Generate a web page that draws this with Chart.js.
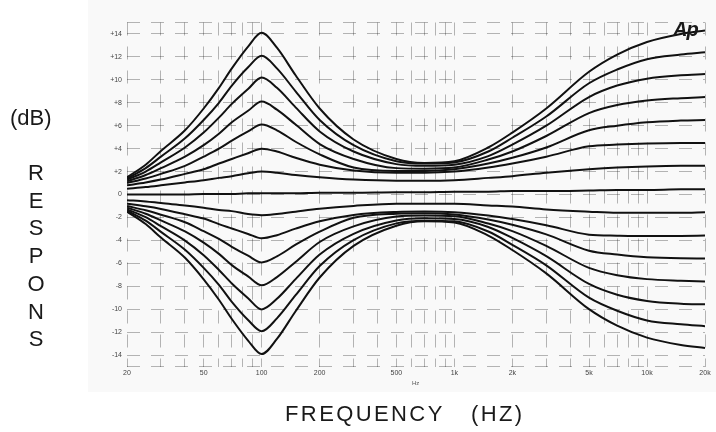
<!DOCTYPE html>
<html>
<head>
<meta charset="utf-8">
<script src="https://cdn.jsdelivr.net/npm/chart.js@4.4.1/dist/chart.umd.min.js"></script>
<style>
  html, body { margin: 0; padding: 0; background: #fff; }
  #wrap { position: relative; width: 716px; height: 432px; font-family: "Liberation Sans", Arial, sans-serif; color: #1a1a1a; }
  #c { position: absolute; left: 0; top: 0; }
  .lbl { position: absolute; white-space: pre; line-height: 1; }
  .letter { position: absolute; width: 30px; left: 21px; text-align: center; font-size: 22px; line-height: 1; }
</style>
</head>
<body>
<div id="wrap">
  <canvas id="c" width="716" height="432"></canvas>
  <div class="lbl" style="left:10px;top:107px;font-size:22px;">(dB)</div>
  <div id="letters"></div>
  <div class="lbl" style="left:285px;top:403px;font-size:22px;letter-spacing:2.4px;">FREQUENCY</div>
  <div class="lbl" style="left:471px;top:403px;font-size:22px;letter-spacing:2.4px;">(HZ)</div>
  <div class="lbl" style="left:412px;top:380px;font-size:6px;color:#555;">Hz</div>
  <div class="lbl" style="left:673px;top:19px;font-size:20px;font-weight:bold;font-style:italic;letter-spacing:-1px;">Ap</div>
</div>
<script>
// frequency points (Hz) the curves were read at
const FREQS = [20, 25, 30, 40, 50, 60, 70, 85, 100, 120, 150, 200, 300, 500, 700, 1000, 1500, 2000, 3000, 5000, 7000, 10000, 15000, 20000];

// boost curves (dB)
const UP_14 = [1.5, 2.6, 3.8, 5.6, 7.5, 9.3, 11.0, 12.9, 14.1, 12.8, 10.4, 7.5, 4.8, 3.1, 2.75, 2.9, 4.1, 5.4, 7.5, 10.7, 12.2, 13.3, 14.0, 14.3];
const UP_12 = [1.4, 2.3, 3.3, 4.9, 6.5, 8.0, 9.5, 11.1, 12.1, 11.0, 9.0, 6.5, 4.3, 2.9, 2.7, 2.8, 3.75, 4.95, 6.8, 9.7, 10.9, 11.8, 12.2, 12.4];
const UP_10 = [1.3, 2.0, 2.8, 4.1, 5.4, 6.7, 7.9, 9.2, 10.2, 9.3, 7.6, 5.5, 3.75, 2.65, 2.5, 2.6, 3.35, 4.35, 6.0, 8.5, 9.5, 10.1, 10.4, 10.5];
const UP_8 = [1.15, 1.7, 2.3, 3.3, 4.3, 5.3, 6.3, 7.3, 8.1, 7.4, 6.1, 4.4, 3.1, 2.3, 2.25, 2.35, 3.05, 3.75, 5.1, 7.1, 7.8, 8.2, 8.4, 8.5];
const UP_6 = [1.0, 1.4, 1.8, 2.5, 3.3, 4.0, 4.7, 5.5, 6.1, 5.6, 4.6, 3.5, 2.35, 2.05, 2.05, 2.2, 2.7, 3.2, 4.1, 5.6, 6.0, 6.3, 6.45, 6.5];
const UP_4 = [0.8, 1.05, 1.3, 1.8, 2.2, 2.7, 3.1, 3.6, 4.0, 3.75, 3.2, 2.6, 2.1, 1.9, 1.9, 2.0, 2.35, 2.7, 3.3, 4.2, 4.35, 4.45, 4.5, 4.5];
const UP_2 = [0.5, 0.65, 0.8, 1.05, 1.25, 1.45, 1.6, 1.85, 2.0, 1.9, 1.7, 1.5, 1.3, 1.2, 1.2, 1.25, 1.45, 1.6, 1.9, 2.2, 2.35, 2.45, 2.5, 2.5];
// flat curve
const FLAT = [0, 0, 0, 0, 0.05, 0.05, 0.05, 0.1, 0.1, 0.1, 0.1, 0.15, 0.15, 0.2, 0.2, 0.25, 0.25, 0.3, 0.3, 0.35, 0.4, 0.4, 0.45, 0.45];
// cut curves (dB)
const DN_2 = [-0.5, -0.6, -0.75, -0.95, -1.15, -1.35, -1.45, -1.7, -1.8, -1.7, -1.5, -1.25, -1.0, -0.8, -0.8, -0.8, -0.95, -1.05, -1.3, -1.5, -1.6, -1.6, -1.6, -1.55];
const DN_4 = [-0.8, -1.03, -1.26, -1.72, -2.1, -2.58, -2.96, -3.44, -3.82, -3.55, -2.98, -2.34, -1.78, -1.52, -1.48, -1.54, -1.83, -2.14, -2.68, -3.5, -3.59, -3.63, -3.62, -3.58];
const DN_6 = [-1.0, -1.38, -1.76, -2.42, -3.2, -3.88, -4.56, -5.34, -5.92, -5.4, -4.38, -3.24, -2.03, -1.67, -1.63, -1.74, -2.18, -2.64, -3.48, -4.9, -5.24, -5.48, -5.57, -5.58];
const DN_8 = [-1.15, -1.68, -2.26, -3.22, -4.2, -5.18, -6.16, -7.14, -7.92, -7.2, -5.88, -4.14, -2.78, -1.92, -1.83, -1.89, -2.53, -3.19, -4.48, -6.4, -7.04, -7.38, -7.52, -7.58];
const DN_10 = [-1.3, -1.98, -2.76, -4.02, -5.3, -6.58, -7.76, -9.04, -10.02, -9.1, -7.38, -5.24, -3.43, -2.27, -2.08, -2.14, -2.83, -3.79, -5.38, -7.8, -8.74, -9.28, -9.52, -9.58];
const DN_12 = [-1.4, -2.28, -3.26, -4.82, -6.4, -7.88, -9.36, -10.94, -11.92, -10.8, -8.78, -6.24, -3.98, -2.52, -2.28, -2.34, -3.23, -4.39, -6.18, -9.0, -10.14, -10.98, -11.32, -11.48];
const DN_14 = [-1.5, -2.58, -3.76, -5.52, -7.4, -9.18, -10.86, -12.74, -13.92, -12.6, -10.18, -7.24, -4.48, -2.72, -2.33, -2.44, -3.58, -4.84, -6.88, -10.0, -11.44, -12.48, -13.12, -13.38];

const CURVES = [UP_14, UP_12, UP_10, UP_8, UP_6, UP_4, UP_2, FLAT, DN_2, DN_4, DN_6, DN_8, DN_10, DN_12, DN_14];

// axes
const Y_TICKS = [-15, -14, -12, -10, -8, -6, -4, -2, 0, 2, 4, 6, 8, 10, 12, 14, 15];
const Y_LABELS = ["", "-14", "-12", "-10", "-8", "-6", "-4", "-2", "0", "+2", "+4", "+6", "+8", "+10", "+12", "+14", ""];
const X_GRID = [20, 30, 40, 50, 60, 70, 80, 90, 100, 200, 300, 400, 500, 600, 700, 800, 900, 1000, 2000, 3000, 4000, 5000, 6000, 7000, 8000, 9000, 10000, 20000];
const X_TICKS = [20, 50, 100, 200, 500, 1000, 2000, 5000, 10000, 20000];
const X_LABELS = ["20", "50", "100", "200", "500", "1k", "2k", "5k", "10k", "20k"];

const TITLE_LETTERS = ["R", "E", "S", "P", "O", "N", "S"];

const letters = document.getElementById("letters");
TITLE_LETTERS.forEach((ch, i) => {
  const d = document.createElement("div");
  d.className = "letter";
  d.style.top = (162 + i * 27.7) + "px";
  d.textContent = ch;
  letters.appendChild(d);
});

const paperBg = {
  id: "paperBg",
  beforeDraw(chart) {
    const ctx = chart.ctx;
    ctx.save();
    ctx.fillStyle = "#f9f9f9";
    ctx.fillRect(88, 0, 628, 392);
    ctx.restore();
  },
};

const tickFont = { family: "Liberation Sans", size: 7 };

new Chart(document.getElementById("c"), {
  type: "line",
  data: {
    datasets: CURVES.map((vals) => ({
      data: FREQS.map((f, i) => ({ x: f, y: vals[i] })),
      borderColor: "#111",
      borderWidth: 2,
      pointRadius: 0,
      cubicInterpolationMode: "monotone",
      fill: false,
    })),
  },
  options: {
    responsive: false,
    animation: false,
    layout: { padding: { left: 88, right: 11, top: 22.5, bottom: 45.5 } },
    plugins: { legend: { display: false }, tooltip: { enabled: false } },
    scales: {
      x: {
        type: "logarithmic",
        min: 20,
        max: 20000,
        afterBuildTicks: (s) => { s.ticks = X_GRID.map((v) => ({ value: v })); },
        afterFit: (s) => { s.height = 20; },
        grid: { color: "rgba(0,0,0,0.28)", lineWidth: 1, drawTicks: false },
        border: { display: false, dash: [13, 11] },
        ticks: {
          autoSkip: false,
          maxRotation: 0,
          padding: 2,
          color: "#444",
          font: tickFont,
          callback: (v) => {
            const k = X_TICKS.indexOf(v);
            return k >= 0 ? X_LABELS[k] : "";
          },
        },
      },
      y: {
        min: -15,
        max: 15,
        afterBuildTicks: (s) => { s.ticks = Y_TICKS.map((v) => ({ value: v })); },
        afterFit: (s) => { s.width = 39; },
        grid: { color: "rgba(0,0,0,0.28)", lineWidth: 1, drawTicks: false },
        border: { display: false, dash: [13, 11] },
        ticks: {
          autoSkip: false,
          padding: 5,
          color: "#444",
          font: tickFont,
          callback: (v) => {
            const k = Y_TICKS.indexOf(v);
            return k >= 0 ? Y_LABELS[k] : "";
          },
        },
      },
    },
  },
  plugins: [paperBg],
});
</script>
</body>
</html>
